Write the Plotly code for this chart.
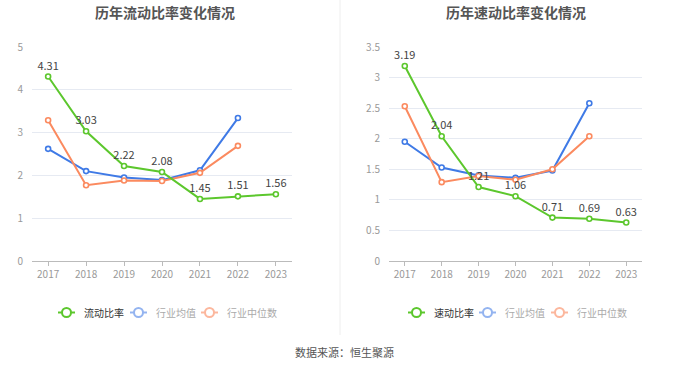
import plotly.graph_objects as go

years = ["2017", "2018", "2019", "2020", "2021", "2022", "2023"]

current_ratio = [4.31, 3.03, 2.22, 2.08, 1.45, 1.51, 1.56]
current_ind_mean = [2.62, 2.10, 1.95, 1.89, 2.12, 3.34, None]
current_ind_median = [3.29, 1.77, 1.88, 1.87, 2.06, 2.69, None]

quick_ratio = [3.19, 2.04, 1.21, 1.06, 0.71, 0.69, 0.63]
quick_ind_mean = [1.95, 1.53, 1.40, 1.36, 1.48, 2.58, None]
quick_ind_median = [2.53, 1.29, 1.39, 1.33, 1.50, 2.04, None]

left_ticks = [0, 1, 2, 3, 4, 5]
right_ticks = [0, 0.5, 1, 1.5, 2, 2.5, 3, 3.5]

left_legend = ["流动比率", "行业均值", "行业中位数"]
right_legend = ["速动比率", "行业均值", "行业中位数"]

GREEN = "#5cc72d"
BLUE = "#3f7ae6"
ORANGE = "#fb8a5f"
LEGEND_COLORS = ["#5cc72d", "#94b4f0", "#fcb79d"]
LEGEND_TEXT = ["#333333", "#aaaaaa", "#aaaaaa"]

W, H = 680, 367

fig = go.Figure()

def add_series(xa, ya, y, color, labels):
    fig.add_trace(go.Scatter(
        x=years, y=y, xaxis=xa, yaxis=ya,
        mode="lines+markers+text" if labels else "lines+markers",
        line=dict(color=color, width=2),
        marker=dict(symbol="circle", size=5, color="white",
                    line=dict(color=color, width=1.6)),
        text=[f"{v:.2f}" if v is not None else "" for v in y] if labels else None,
        textposition="top center",
        textfont=dict(size=11, color="#444444"),
        showlegend=False, hoverinfo="skip", cliponaxis=False,
    ))

add_series("x", "y", current_ind_mean, BLUE, False)
add_series("x", "y", current_ind_median, ORANGE, False)
add_series("x", "y", current_ratio, GREEN, True)

add_series("x2", "y2", quick_ind_mean, BLUE, False)
add_series("x2", "y2", quick_ind_median, ORANGE, False)
add_series("x2", "y2", quick_ratio, GREEN, True)

ydom = [(H - 261) / H, (H - 47) / H]
axis_font = dict(size=10, color="#999999")

def xaxis(domain, anchor):
    return dict(type="category", showgrid=False, showline=True, linecolor="#bbbbbb",
                linewidth=1, ticks="outside", ticklen=4, tickcolor="#bbbbbb",
                tickfont=axis_font, fixedrange=True, automargin=False,
                domain=domain, anchor=anchor)

def yaxis(rng, ticks, anchor):
    return dict(domain=ydom, range=rng, tickvals=ticks, showgrid=True,
                gridcolor="#e6eaf2", zeroline=False, showline=False,
                tickfont=axis_font, anchor=anchor, ticklabelstandoff=8,
                automargin=False, fixedrange=True)

fig.update_layout(
    width=W, height=H, autosize=False,
    margin=dict(l=0, r=0, t=0, b=0, pad=0, autoexpand=False),
    paper_bgcolor="white", plot_bgcolor="white",
    font=dict(family="Noto Sans CJK SC, sans-serif"),
    xaxis=xaxis([32 / W, 292 / W], "y"),
    yaxis=yaxis([0, 5], left_ticks, "x"),
    xaxis2=xaxis([389 / W, 642 / W], "y2"),
    yaxis2=yaxis([0, 3.5], right_ticks, "x2"),
    showlegend=False,
)

# Titles and source
fig.add_annotation(text="<b>历年流动比率变化情况</b>", x=165 / W, y=1 - 12 / H,
                   xref="paper", yref="paper", showarrow=False,
                   font=dict(size=14, color="#555555"), xanchor="center", yanchor="middle")
fig.add_annotation(text="<b>历年速动比率变化情况</b>", x=516 / W, y=1 - 12 / H,
                   xref="paper", yref="paper", showarrow=False,
                   font=dict(size=14, color="#555555"), xanchor="center", yanchor="middle")
fig.add_annotation(text="数据来源：恒生聚源", x=344 / W, y=1 - 352 / H,
                   xref="paper", yref="paper", showarrow=False,
                   font=dict(size=11, color="#555555"), xanchor="center", yanchor="middle")

# Divider
fig.add_shape(type="line", xref="paper", yref="paper",
              x0=340 / W, x1=340 / W, y0=1 - 335 / H, y1=1,
              line=dict(color="#eeeeee", width=1))

# Custom legends (icon: short line with open circle)
legend_y = 312.5
left_icon_x = [58, 130, 201]
right_icon_x = [408, 479, 551]

def draw_legend(labels, icon_xs):
    for lab, ix, col, tcol in zip(labels, icon_xs, LEGEND_COLORS, LEGEND_TEXT):
        yc = 1 - legend_y / H
        fig.add_shape(type="line", xref="paper", yref="paper",
                      x0=ix / W, x1=(ix + 17) / W, y0=yc, y1=yc,
                      line=dict(color=col, width=2))
        r = 4.5
        cx = ix + 8.5
        fig.add_shape(type="circle", xref="paper", yref="paper",
                      x0=(cx - r) / W, x1=(cx + r) / W,
                      y0=yc - r / H, y1=yc + r / H,
                      line=dict(color=col, width=2), fillcolor="white")
        fig.add_annotation(text=lab, x=(ix + 24) / W, y=yc, xref="paper", yref="paper",
                           showarrow=False, xanchor="left", yanchor="middle",
                           font=dict(size=10, color=tcol))

draw_legend(left_legend, left_icon_x)
draw_legend(right_legend, right_icon_x)

fig.write_html("out.html", config={"displayModeBar": False},
               post_script="document.body.style.margin='0';document.body.style.overflow='hidden';")
